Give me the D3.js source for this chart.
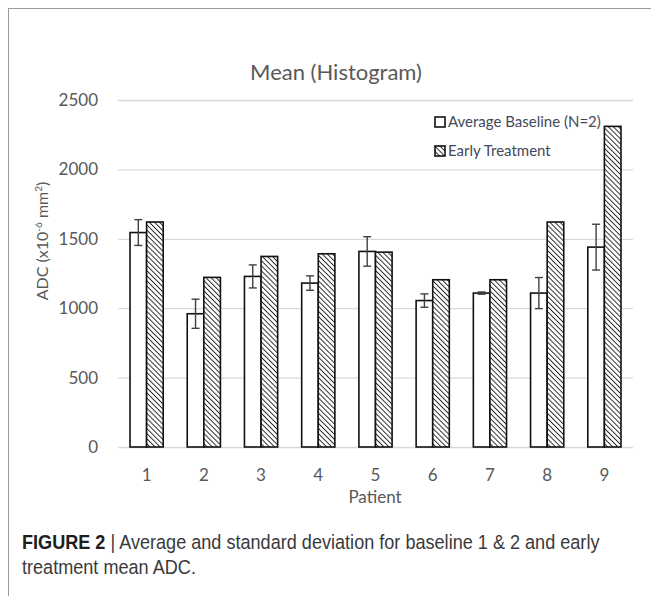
<!DOCTYPE html>
<html>
<head>
<meta charset="utf-8">
<script src="https://cdn.jsdelivr.net/npm/d3@7"></script>
<style>
  body { margin: 0; background: #fff; }
  svg { display: block; }
</style>
</head>
<body>
<svg id="chart" width="651" height="596"></svg>
<script>
// values
const patients = ["1", "2", "3", "4", "5", "6", "7", "8", "9"];
const baseline = [1545, 960, 1229, 1181, 1409, 1055, 1109, 1109, 1440];
const baselineSD = [93, 105, 83, 52, 106, 48, 8, 112, 165];
const early = [1621, 1222, 1373, 1392, 1404, 1205, 1205, 1621, 2310];
const yTicks = [0, 500, 1000, 1500, 2000, 2500];
const seriesNames = ["Average Baseline (N=2)", "Early Treatment"];

const svg = d3.select("#chart");
const grey = "#595959";
const font = "Lato, 'Open Sans', sans-serif";

// hatch for the early treatment bars ("\\" direction)
const defs = svg.append("defs");
defs.append("pattern")
    .attr("id", "hatch")
    .attr("patternUnits", "userSpaceOnUse")
    .attr("width", 3.6)
    .attr("height", 3.6)
    .attr("patternTransform", "rotate(-45)")
  .call(p => {
    p.append("rect").attr("width", 3.6).attr("height", 3.6).attr("fill", "#fff");
    p.append("line")
      .attr("x1", 0).attr("y1", 0).attr("x2", 0).attr("y2", 3.6)
      .attr("stroke", "#262626").attr("stroke-width", 1.9);
  });

// frame lines of the figure
svg.append("line").attr("x1", 8.5).attr("x2", 8.5).attr("y1", 8).attr("y2", 596)
  .attr("stroke", "#9a9a9a");
svg.append("line").attr("x1", 8).attr("x2", 651).attr("y1", 8.5).attr("y2", 8.5)
  .attr("stroke", "#9a9a9a");

const x = d3.scaleBand()
  .domain(patients)
  .range([118, 633])
  .paddingInner(0.42)
  .paddingOuter(0.21);

const xSub = d3.scaleBand()
  .domain([0, 1])
  .range([0, x.bandwidth()]);

const y = d3.scaleLinear()
  .domain([0, 2500])
  .range([447, 100]);

// grid + y labels
const yAxis = svg.append("g")
  .attr("transform", "translate(118,0)")
  .call(d3.axisLeft(y).tickValues(yTicks).tickFormat(d3.format("d"))
    .tickSize(-515).tickPadding(20));
yAxis.select(".domain").remove();
yAxis.selectAll(".tick line").attr("stroke", "#d9d9d9").attr("stroke-width", 1.3);
yAxis.selectAll(".tick text")
  .attr("fill", grey)
  .style("font-family", font)
  .style("font-size", "17px");

// x labels
const xAxis = svg.append("g")
  .attr("transform", "translate(0,447)")
  .call(d3.axisBottom(x).tickSize(0).tickPadding(22));
xAxis.select(".domain").remove();
xAxis.selectAll(".tick text")
  .attr("fill", grey)
  .style("font-family", font)
  .style("font-size", "17px");

const groups = svg.append("g")
  .selectAll("g")
  .data(patients)
  .join("g")
  .attr("transform", d => `translate(${x(d)},0)`);

groups.append("rect")
  .attr("x", xSub(0))
  .attr("width", xSub.bandwidth())
  .attr("y", (d, i) => y(baseline[i]))
  .attr("height", (d, i) => y(0) - y(baseline[i]))
  .attr("fill", "#fff")
  .attr("stroke", "#111")
  .attr("stroke-width", 1.6);

groups.append("rect")
  .attr("x", xSub(1))
  .attr("width", xSub.bandwidth())
  .attr("y", (d, i) => y(early[i]))
  .attr("height", (d, i) => y(0) - y(early[i]))
  .attr("fill", "url(#hatch)")
  .attr("stroke", "#111")
  .attr("stroke-width", 1.6);

// error bars on baseline
const err = groups.append("g")
  .attr("stroke", "#404040")
  .attr("stroke-width", 1.4);
const cx = xSub(0) + xSub.bandwidth() / 2;
err.append("line")
  .attr("x1", cx).attr("x2", cx)
  .attr("y1", (d, i) => y(baseline[i] + baselineSD[i]))
  .attr("y2", (d, i) => y(baseline[i] - baselineSD[i]));
err.append("line")
  .attr("x1", cx - 4).attr("x2", cx + 4)
  .attr("y1", (d, i) => y(baseline[i] + baselineSD[i]))
  .attr("y2", (d, i) => y(baseline[i] + baselineSD[i]));
err.append("line")
  .attr("x1", cx - 4).attr("x2", cx + 4)
  .attr("y1", (d, i) => y(baseline[i] - baselineSD[i]))
  .attr("y2", (d, i) => y(baseline[i] - baselineSD[i]));

// title
svg.append("text")
  .attr("x", 336).attr("y", 80)
  .attr("text-anchor", "middle")
  .attr("fill", grey)
  .style("font-family", font)
  .style("font-size", "22px")
  .text("Mean (Histogram)");

// axis titles
svg.append("text")
  .attr("x", 375).attr("y", 503)
  .attr("text-anchor", "middle")
  .attr("fill", grey)
  .style("font-family", font)
  .style("font-size", "17px")
  .text("Patient");

const yt = svg.append("text")
  .attr("transform", "translate(48,241) rotate(-90)")
  .attr("text-anchor", "middle")
  .attr("fill", grey)
  .style("font-family", font)
  .style("font-size", "16px");
yt.append("tspan").text("ADC (x10");
yt.append("tspan").attr("dy", -6).style("font-size", "10px").text("-6");
yt.append("tspan").attr("dy", 6).text(" mm");
yt.append("tspan").attr("dy", -6).style("font-size", "10px").text("2");
yt.append("tspan").attr("dy", 6).text(")");

// legend
const legend = svg.append("g")
  .selectAll("g")
  .data(seriesNames)
  .join("g")
  .attr("transform", (d, i) => `translate(434,${122 + i * 29})`);
legend.append("rect")
  .attr("x", 1).attr("y", -5).attr("width", 10).attr("height", 10)
  .attr("fill", (d, i) => i ? "url(#hatch)" : "#fff")
  .attr("stroke", "#111").attr("stroke-width", 1.6);
legend.append("text")
  .attr("x", 14).attr("dy", "0.35em")
  .attr("fill", "#44495a")
  .style("font-family", font)
  .style("font-size", "15px")
  .text(d => d);

// figure caption, squeezed to the width of the narrow original face
const cap = svg.append("g")
  .style("font-family", "'Liberation Sans', Arial, sans-serif")
  .style("font-size", "19.5px")
  .attr("fill", "#3a3a3a");
const line1 = cap.append("text").attr("x", 0).attr("y", 0);
line1.append("tspan").style("font-weight", "bold").attr("fill", "#1e1e1e").text("FIGURE 2");
line1.append("tspan").text(" | Average and standard deviation for baseline 1 & 2 and early");
cap.append("text").attr("x", 0).attr("y", 25).text("treatment mean ADC.");
const natural = line1.node().getComputedTextLength();
const squeeze = 578 / natural;
cap.attr("transform", `translate(22,549) scale(${squeeze},1)`);
</script>
</body>
</html>
